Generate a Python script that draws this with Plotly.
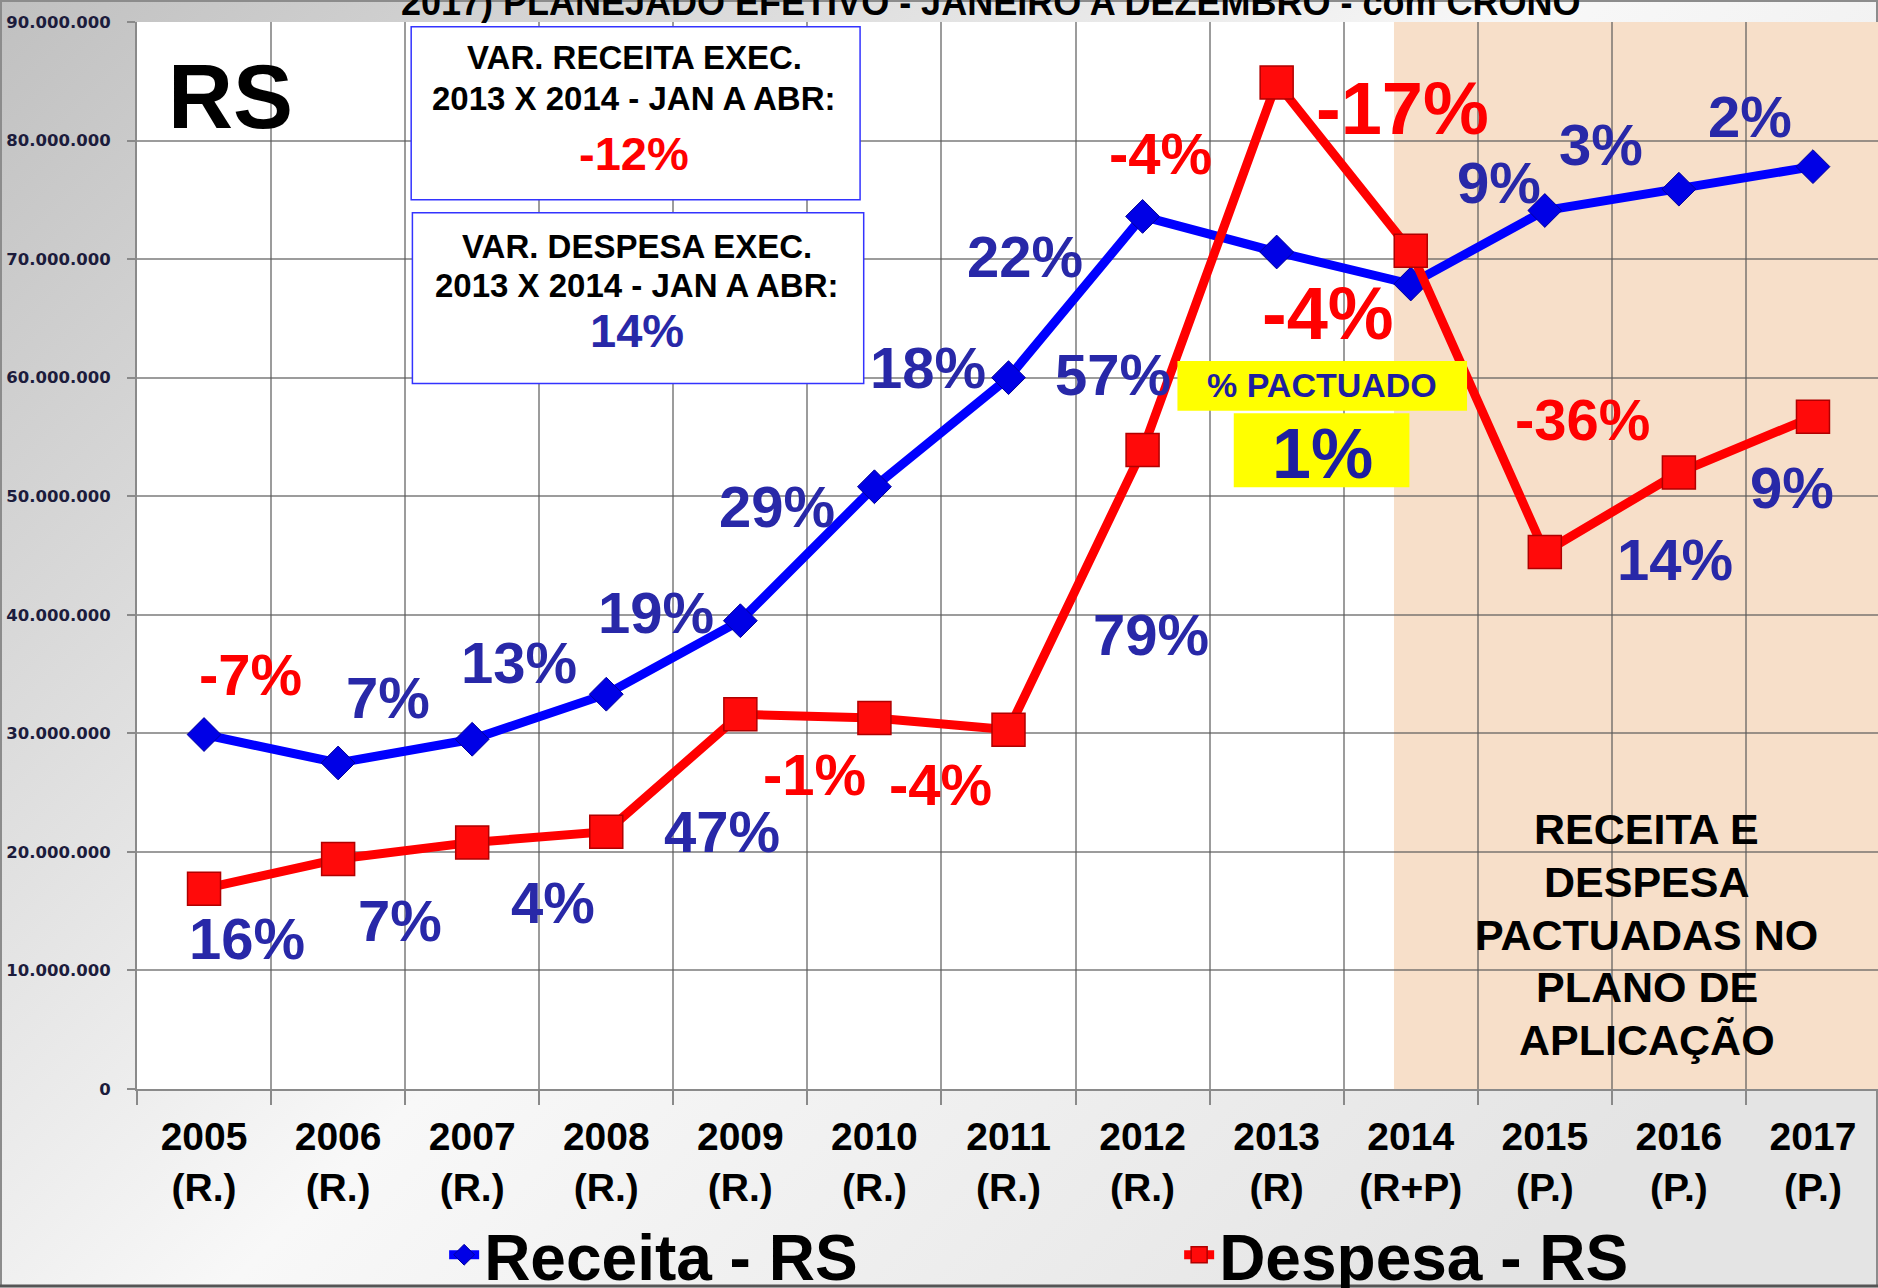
import base64
import plotly.graph_objects as go

# ---- data -------------------------------------------------------------
years = ["2005", "2006", "2007", "2008", "2009", "2010", "2011",
         "2012", "2013", "2014", "2015", "2016", "2017"]
kinds = ["(R.)", "(R.)", "(R.)", "(R.)", "(R.)", "(R.)", "(R.)",
         "(R.)", "(R)", "(R+P)", "(P.)", "(P.)", "(P.)"]
receita = [29.9e6, 27.5e6, 29.5e6, 33.3e6, 39.5e6, 50.8e6, 60.0e6,
           73.6e6, 70.6e6, 67.9e6, 74.1e6, 75.9e6, 77.8e6]
despesa = [16.9e6, 19.4e6, 20.8e6, 21.7e6, 31.6e6, 31.3e6, 30.3e6,
           53.9e6, 84.9e6, 70.7e6, 45.3e6, 52.0e6, 56.7e6]
y_ticks = [0, 10e6, 20e6, 30e6, 40e6, 50e6, 60e6, 70e6, 80e6, 90e6]

# variation labels: text, x (category index), y (value), colour key, size
var_text = ["-7%", "-1%", "-4%", "-4%", "-17%", "-4%", "-36%",
            "7%", "13%", "19%", "29%", "18%", "22%", "57%", "9%", "3%", "2%",
            "16%", "7%", "4%", "47%", "79%", "14%", "9%"]
var_x = [0.35, 4.55, 5.49, 7.13, 8.94, 8.38, 10.28,
         1.37, 2.35, 3.37, 4.27, 5.40, 6.12, 6.78, 9.66, 10.42, 11.53,
         0.32, 1.46, 2.60, 3.86, 7.06, 10.97, 11.84]
var_y = [35.0e6, 26.5e6, 25.7e6, 78.9e6, 82.7e6, 65.4e6, 56.5e6,
         33.0e6, 36.0e6, 40.2e6, 49.1e6, 60.9e6, 70.2e6, 60.3e6, 76.5e6, 79.7e6, 82.0e6,
         12.7e6, 14.2e6, 15.7e6, 21.7e6, 38.3e6, 44.7e6, 50.7e6]
var_color = ["r"] * 7 + ["b"] * 17
var_big = [False, False, False, False, True, True, False] + [False] * 17

note_lines = ["RECEITA E", "DESPESA", "PACTUADAS NO", "PLANO DE", "APLICAÇÃO"]

# ---- styling ----------------------------------------------------------
W, H = 1878, 1288
ML, MR, MT, MB = 137, 0, 22, 199
PW, PH = W - ML - MR, H - MT - MB
FONT = "Liberation Sans, Arial, sans-serif"
RED = "#FF0000"
NAVY = "#2828A8"
BLUE = "#0000FF"
categories = [f"{y}<br>{k}" for y, k in zip(years, kinds)]
tick_text = [f"{int(v):,}".replace(",", ".") for v in y_ticks]

fig = go.Figure()
fig.add_trace(go.Scatter(
    x=categories, y=receita, name="Receita - RS", mode="lines+markers",
    line=dict(color=BLUE, width=9),
    marker=dict(symbol="diamond", size=26, color="#0000E6",
                line=dict(color="#00009A", width=1)),
))
fig.add_trace(go.Scatter(
    x=categories, y=despesa, name="Despesa - RS", mode="lines+markers",
    line=dict(color=RED, width=9),
    marker=dict(symbol="square", size=33, color="#FF0A0A",
                line=dict(color="#B00000", width=1.5)),
))

# page background: soft grey gradient with a thin frame
svg = f"""<svg xmlns="http://www.w3.org/2000/svg" width="{W}" height="{H}" viewBox="0 0 {W} {H}">
<defs><linearGradient id="g" x1="0" y1="0" x2="1" y2="0.7">
<stop offset="0" stop-color="#c0c0c0"/><stop offset="0.55" stop-color="#f8f8f8"/>
<stop offset="1" stop-color="#e4e4e4"/></linearGradient></defs>
<rect x="0" y="0" width="{W}" height="{H}" fill="url(#g)"/>
<rect x="1" y="1" width="{W-2}" height="{H-3}" fill="none" stroke="#8c8c8c" stroke-width="2"/>
<line x1="0" y1="{H-2}" x2="{W}" y2="{H-2}" stroke="#555" stroke-width="3"/>
</svg>"""
src = "data:image/svg+xml;base64," + base64.b64encode(svg.encode()).decode()
fig.add_layout_image(dict(
    source=src, xref="paper", yref="paper",
    x=-ML / PW, y=1 + MT / PH, sizex=W / PW, sizey=H / PH,
    xanchor="left", yanchor="top", sizing="stretch", layer="below",
))

shapes = [
    # white plot area
    dict(type="rect", xref="paper", yref="paper", x0=0, x1=1, y0=0, y1=1,
         fillcolor="white", line=dict(width=0), layer="below"),
    # projected period
    dict(type="rect", xref="x", yref="y", x0=8.875, x1=12.6, y0=0, y1=90e6,
         fillcolor="#F7DFC9", line=dict(width=0), layer="below"),
    # info boxes
    dict(type="rect", xref="x", yref="y", x0=1.545, x1=4.893, y0=75.0e6, y1=89.6e6,
         fillcolor="white", line=dict(color="#3333FF", width=1.5), layer="above"),
    dict(type="rect", xref="x", yref="y", x0=1.554, x1=4.92, y0=59.5e6, y1=73.9e6,
         fillcolor="white", line=dict(color="#3333FF", width=1.5), layer="above"),
    dict(type="rect", xref="x", yref="y", x0=7.26, x1=9.42, y0=57.2e6, y1=61.4e6,
         fillcolor="#FFFF00", line=dict(width=0), layer="above"),
    dict(type="rect", xref="x", yref="y", x0=7.68, x1=8.99, y0=50.75e6, y1=57.0e6,
         fillcolor="#FFFF00", line=dict(width=0), layer="above"),
]

ann = []
for t, x, y, c, big in zip(var_text, var_x, var_y, var_color, var_big):
    ann.append(dict(text=t, x=x, y=y, xref="x", yref="y", showarrow=False,
                    font=dict(family=FONT, size=74 if big else 58, weight="bold",
                              color=RED if c == "r" else NAVY)))


def label(text, x, y, size, color="black"):
    ann.append(dict(text=text, x=x, y=y, xref="x", yref="y", showarrow=False,
                    font=dict(family=FONT, size=size, weight="bold", color=color)))


label("RS", 0.196, 83.7e6, 90)
label("VAR. RECEITA EXEC.", 3.21, 86.97e6, 33)
label("2013 X 2014 - JAN A ABR:", 3.21, 83.54e6, 33)
label("-12%", 3.21, 78.9e6, 47, RED)
label("VAR. DESPESA EXEC.", 3.23, 71.1e6, 33)
label("2013 X 2014 - JAN A ABR:", 3.23, 67.8e6, 33)
label("14%", 3.23, 63.97e6, 47, NAVY)
label("% PACTUADO", 8.34, 59.4e6, 34, "#1E1EA0")
label("1%", 8.34, 53.6e6, 70, "#1E1EA0")
for i, line in enumerate(note_lines):
    label(line, 10.76, (21.9 - 4.44 * i) * 1e6, 43)

# partially visible heading at the very top
ann.append(dict(text="2017) PLANEJADO EFETIVO - JANEIRO A DEZEMBRO - com CRONO",
                xref="paper", yref="paper", x=(991 - ML) / PW, y=1 + 20 / PH,
                showarrow=False, yanchor="middle",
                font=dict(family=FONT, size=36, weight="bold", color="black")))

fig.update_layout(
    width=W, height=H,
    margin=dict(l=ML, r=MR, t=MT, b=MB, autoexpand=False),
    paper_bgcolor="rgba(0,0,0,0)", plot_bgcolor="rgba(0,0,0,0)",
    shapes=shapes, annotations=ann,
    showlegend=True,
    legend=dict(orientation="h", xref="container", yref="container",
                x=0.2365, y=0.0255, xanchor="left", yanchor="middle",
                entrywidth=690, bgcolor="rgba(0,0,0,0)",
                font=dict(family=FONT, size=64, weight="bold", color="black")),
    xaxis=dict(type="category", range=[-0.5, 12.485], tickson="boundaries",
               showgrid=True, gridcolor="rgba(90,90,90,0.6)", gridwidth=1.5,
               showline=True, linecolor="#8a8a8a", linewidth=2,
               ticks="outside", ticklen=14, tickcolor="#8a8a8a", tickwidth=2,
               ticklabelstandoff=12,
               tickfont=dict(family=FONT, size=39, weight="bold", color="black")),
    yaxis=dict(range=[0, 90e6], tickvals=y_ticks, ticktext=tick_text,
               showgrid=True, gridcolor="rgba(90,90,90,0.6)", gridwidth=1.5,
               zeroline=False,
               showline=True, linecolor="#8a8a8a", linewidth=2,
               ticks="outside", ticklen=8, tickcolor="#8a8a8a", tickwidth=2,
               ticklabelstandoff=13,
               tickfont=dict(family="DejaVu Sans, sans-serif", size=16.5,
                             weight="bold", color="#1c1c3c")),
)

fig.write_html("out.html")
